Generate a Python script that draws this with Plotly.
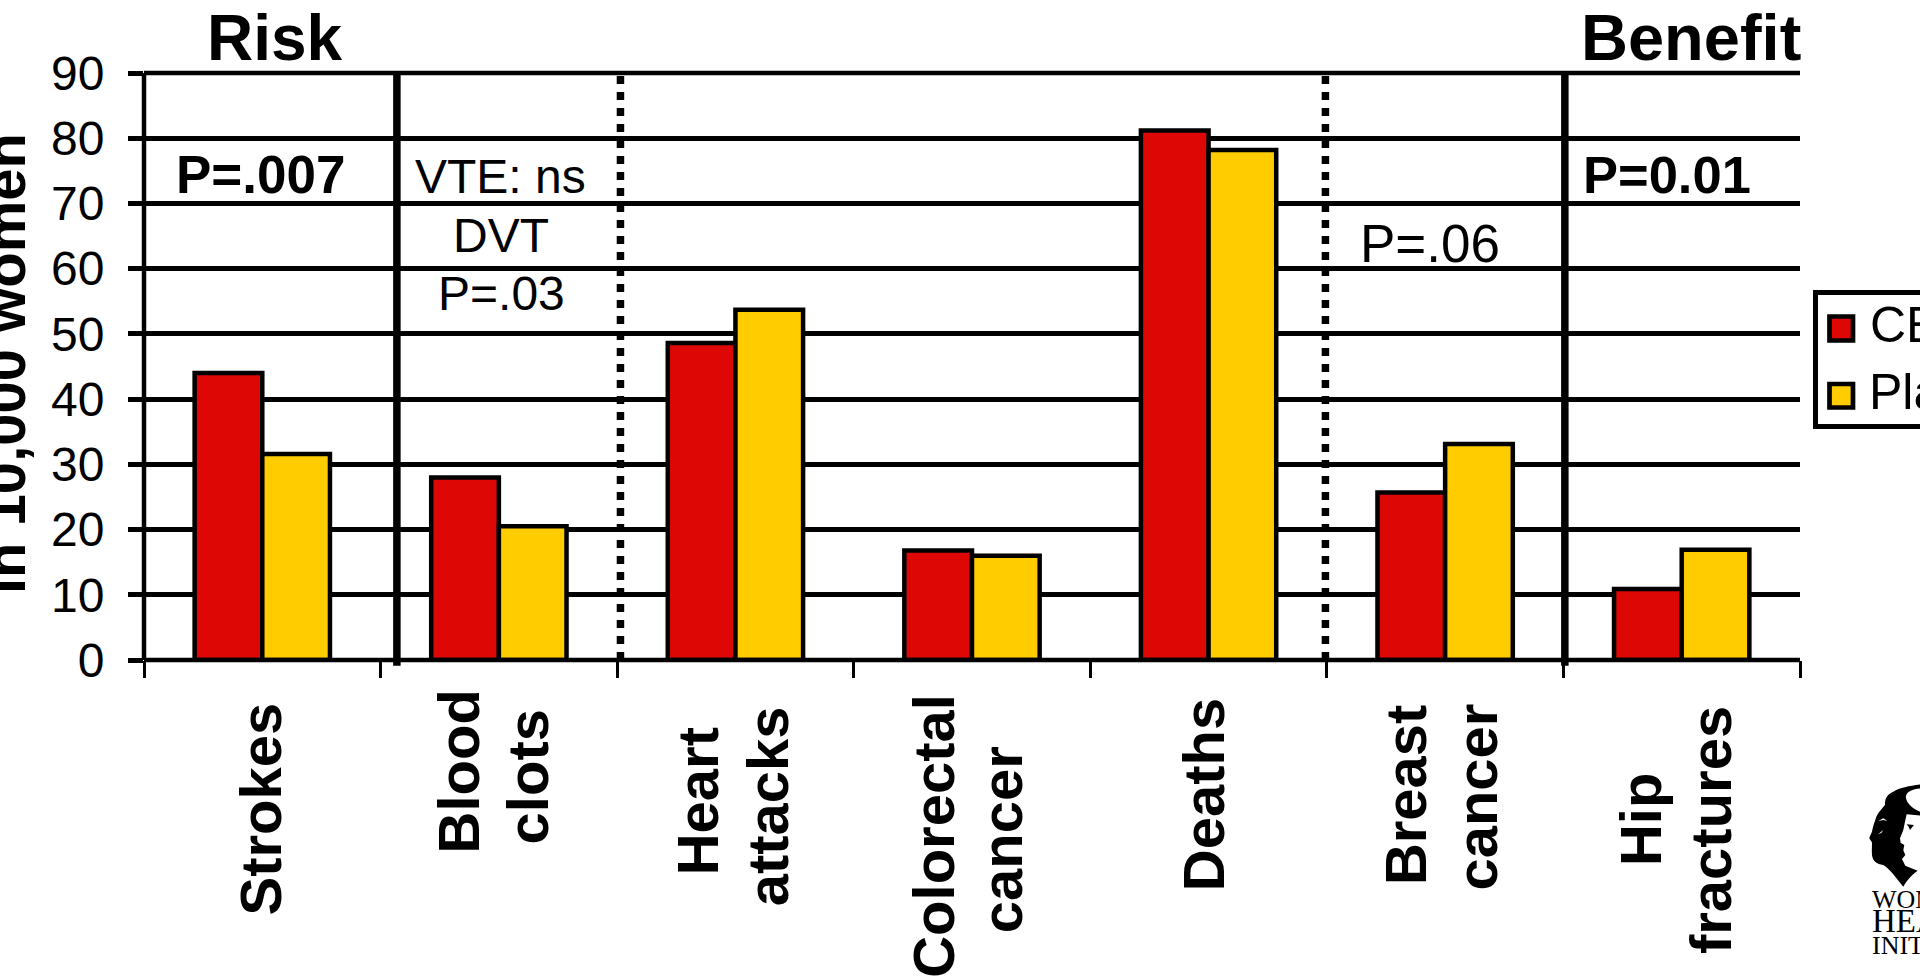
import plotly.graph_objects as go

# Event rates per 10,000 women
categories = ["Strokes", "Blood clots", "Heart attacks", "Colorectal cancer",
              "Deaths", "Breast cancer", "Hip fractures"]
cee_values = [44.0, 28.0, 48.6, 16.8, 81.2, 25.7, 10.9]
placebo_values = [31.6, 20.5, 53.7, 16.0, 78.2, 33.1, 16.9]
series_names = ["CEE", "Placebo"]
y_tick_values = [0, 10, 20, 30, 40, 50, 60, 70, 80, 90]

FONT = "Liberation Sans"
SERIF = "Liberation Serif"
RED = "#DD0806"
YELLOW = "#FFCC00"
W, H = 1920, 979
LEFT, RIGHT, TOP, BOTTOM = 143.5, 1800, 73, 660


def px_x(v):
    return (v - LEFT) / (RIGHT - LEFT)


def px_y(v):
    return (BOTTOM - v) / (BOTTOM - TOP)


def note(text, x, baseline, size, bold=False, anchor="center", family=FONT, color="black"):
    """Horizontal page label placed by its baseline, in page pixels."""
    return dict(
        text=f"<b>{text}</b>" if bold else text,
        x=px_x(x), y=px_y(baseline - 0.3465 * size),
        xref="paper", yref="paper", xanchor=anchor, yanchor="middle",
        showarrow=False, borderpad=0,
        font=dict(family=family, size=size, color=color),
    )


def upright(text, x, y, size):
    """Bold label rotated to read bottom-to-top, centred on a page position."""
    return dict(
        text=f"<b>{text}</b>", x=px_x(x), y=px_y(y),
        xref="paper", yref="paper", xanchor="center", yanchor="middle",
        textangle=-90, showarrow=False, borderpad=0,
        font=dict(family=FONT, size=size, color="black"),
    )


fig = go.Figure()
for name, values, color in zip(series_names, [cee_values, placebo_values], [RED, YELLOW]):
    fig.add_bar(name=name, x=categories, y=values,
                marker=dict(color=color, line=dict(color="black", width=4.5)))

# Category label lines: one entry per drawn line, split from the category names
label_lines = [w for c in categories for w in c.split(" ")]
label_x = [260, 458, 527, 697, 767, 932.5, 1001, 1203, 1405, 1475.5, 1640, 1710]
label_y = [809, 771, 777, 801, 806, 836, 840, 795, 795, 797, 820, 830]

annotations = [upright(t, x, y, 58) for t, x, y in zip(label_lines, label_x, label_y)]
annotations.append(upright("in 10,000 women", 4, 363.5, 58))

annotations += [
    note("Risk", 275, 60, 64, bold=True),
    note("Benefit", 1580, 60, 65, bold=True, anchor="left"),
    note("P=.007", 260, 193, 53, bold=True),
    note("P=0.01", 1666.5, 193, 52.5, bold=True),
    note("VTE: ns", 500.5, 193, 48),
    note("DVT", 501, 252, 48),
    note("P=.03", 501, 310, 48),
    note("P=.06", 1430, 262, 53),
    note(series_names[0], 1869, 342, 50, anchor="left"),
    note(series_names[1], 1868, 409, 50, anchor="left"),
    note("WOMEN'S", 1871, 909, 26, anchor="left", family=SERIF),
    note("HEALTH", 1871, 932, 33, anchor="left", family=SERIF),
    note("INITIATIVE", 1871, 955, 26, anchor="left", family=SERIF),
]


def vline(x, width, dash="solid", y0=0.0):
    return dict(type="line", xref="x", yref="paper", x0=x, x1=x, y0=y0, y1=1,
                line=dict(color="black", width=width, dash=dash))


def hline(y, width):
    return dict(type="line", xref="paper", yref="paper", x0=0, x1=1, y0=y, y1=y,
                line=dict(color="black", width=width))


def page_rect(x0, y0, x1, y1, fill, line_w):
    return dict(type="rect", xref="paper", yref="paper",
                x0=px_x(x0), x1=px_x(x1), y0=px_y(y0), y1=px_y(y1),
                fillcolor=fill, line=dict(color="black", width=line_w))


def page_path(points, fill):
    """Closed filled outline from (command, x, y, ...) tuples in page pixels."""
    parts = []
    for cmd, *coords in points:
        pairs = [f"{px_x(coords[i]):.5f},{px_y(coords[i + 1]):.5f}" for i in range(0, len(coords), 2)]
        parts.append(cmd + " " + " ".join(pairs))
    return dict(type="path", xref="paper", yref="paper", path=" ".join(parts) + " Z",
                fillcolor=fill, line=dict(width=0))


def z(x, y):
    return 1850 + x / 3, 775 + y / 3


def curve(a, b, c):
    return ("C", *z(*a), *z(*b), *z(*c))


def lineto(a):
    return ("L", *z(*a))


# Logo: dark head silhouette, pale inner profile, facial details
head = [("M", *z(215, 28)),
        curve((180, 32), (150, 38), (130, 50)),
        curve((112, 58), (105, 68), (105, 90)),
        curve((92, 105), (80, 118), (76, 135)),
        curve((70, 150), (68, 160), (66, 170)),
        curve((62, 180), (58, 185), (58, 190)),
        curve((60, 196), (66, 198), (66, 205)),
        curve((66, 215), (65, 225), (66, 240)),
        curve((68, 258), (80, 268), (100, 270)),
        curve((118, 280), (135, 305), (160, 335)),
        curve((175, 310), (190, 295), (215, 280))]
crown = [("M", *z(215, 40)),
         curve((190, 42), (172, 48), (168, 62)),
         curve((165, 80), (185, 102), (215, 112))]
face = [("M", *z(215, 122)),
        lineto((170, 118)), lineto((165, 140)), lineto((160, 165)),
        lineto((150, 190)), lineto((152, 203)), lineto((163, 210)),
        lineto((160, 226)), lineto((166, 240)), lineto((156, 252)),
        lineto((166, 272)), lineto((215, 292))]
eye = [("M", *z(170, 148)), lineto((192, 150)), lineto((180, 165)), lineto((176, 155))]
flick_a = [("M", *z(85, 138)), lineto((100, 130)), lineto((112, 138)), lineto((100, 135))]
flick_b = [("M", *z(84, 178)), lineto((100, 165)), lineto((94, 174))]

shapes = [
    # Value axis line, upper and lower frame rules, category separators
    dict(type="line", xref="paper", yref="paper", x0=0, x1=0, y0=0, y1=1,
         line=dict(color="black", width=4.5)),
    hline(1, 4.5),
    hline(0, 4.5),
    vline(0.569, 7.5, y0=-0.01),
    vline(1.514, 7.5, dash="8px,8px"),
    vline(4.494, 7.5, dash="8px,8px"),
    vline(5.506, 7.5, y0=-0.01),
    # Legend frame and swatches
    page_rect(1815.5, 292.5, 1960, 426.5, "white", 5),
    page_rect(1829.5, 316.5, 1853, 340.5, RED, 4.7),
    page_rect(1829.5, 384, 1853, 407.5, YELLOW, 4.7),
    page_path(head, "black"),
    page_path(crown, "white"),
    page_path(face, "white"),
    page_path(eye, "black"),
    page_path(flick_a, "white"),
    page_path(flick_b, "white"),
]

fig.update_layout(
    width=W, height=H,
    autosize=False,
    margin=dict(l=LEFT, r=W - RIGHT, t=TOP, b=H - BOTTOM, pad=0, autoexpand=False),
    paper_bgcolor="white", plot_bgcolor="white",
    barmode="group", bargap=0.428, bargroupgap=0,
    showlegend=False,
    font=dict(family=FONT, color="black"),
    annotations=annotations,
    shapes=shapes,
    xaxis=dict(
        type="category", categoryorder="array", categoryarray=categories,
        range=[-0.5, 6.5], tickson="boundaries", ticks="outside", ticklen=17,
        tickwidth=3, tickcolor="black", showticklabels=False,
        showline=False, showgrid=False, zeroline=False,
    ),
    yaxis=dict(
        range=[0, 90], tickvals=y_tick_values, ticks="outside", ticklen=15,
        tickwidth=4.5, tickcolor="black", showline=False, zeroline=False,
        showgrid=True, gridcolor="black", gridwidth=4.5,
        tickfont=dict(family=FONT, size=48, color="black"), ticklabelstandoff=14,
    ),
)

fig.write_html("out.html", config={"displayModeBar": False})
